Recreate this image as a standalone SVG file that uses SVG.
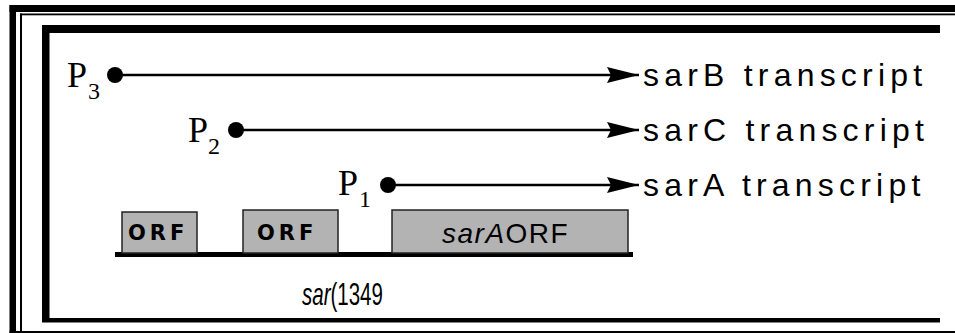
<svg xmlns="http://www.w3.org/2000/svg" width="955" height="333" viewBox="0 0 955 333">
<defs>
<style>
.frame{fill:#000}
.pl{font-family:"Liberation Serif","Times New Roman",serif;font-size:36px;fill:#000}
.ps{font-family:"Liberation Serif","Times New Roman",serif;font-size:24px;fill:#000}
.tx{font-family:"Liberation Sans",Arial,sans-serif;font-size:32px;letter-spacing:5.2px;fill:#000}
.ln{stroke:#000;stroke-width:2.5;fill:none}
.box{fill:#b3b3b3;stroke:#222;stroke-width:1.5}
.orf{font-family:"DejaVu Sans",sans-serif;font-weight:bold;font-size:21px;letter-spacing:4px;fill:#000}
.sa{font-family:"Liberation Sans",Arial,sans-serif;font-size:28px;letter-spacing:1.5px;fill:#000}
.lab{font-family:"Liberation Sans",Arial,sans-serif;font-size:32px;fill:#000}
</style>
<marker id="ah" markerWidth="32" markerHeight="16" refX="32" refY="8" orient="auto" markerUnits="userSpaceOnUse">
<path d="M0,0 L32,8 L0,16 L4,8 Z" fill="#000"/>
</marker>
</defs>
<g id="frame">
<rect class="frame" x="9.5" y="5" width="945.5" height="7"/>
<rect class="frame" x="9.5" y="5" width="6.5" height="328"/>
<rect class="frame" x="20" y="13.5" width="935" height="1.8"/>
<rect class="frame" x="20" y="13.5" width="2" height="318"/>
<rect class="frame" x="9.5" y="331" width="945.5" height="2"/>
<rect class="frame" x="42" y="25" width="898" height="8"/>
<rect class="frame" x="42" y="25" width="7.5" height="297"/>
<rect class="frame" x="42" y="318" width="898" height="4.5"/>
</g>
<g id="connectors">
<line class="ln" x1="115" y1="75" x2="639" y2="75" marker-end="url(#ah)"/>
<line class="ln" x1="236" y1="130" x2="639" y2="130" marker-end="url(#ah)"/>
<line class="ln" x1="388" y1="185" x2="639" y2="185" marker-end="url(#ah)"/>
</g>
<g id="p3">
<circle cx="115" cy="75" r="8" fill="#000"/>
<text class="pl" x="67" y="87">P</text><text class="ps" x="88" y="99">3</text>
<text class="tx" x="643" y="86">sarB transcript</text>
</g>
<g id="p2">
<circle cx="236" cy="130" r="8" fill="#000"/>
<text class="pl" x="188" y="142">P</text><text class="ps" x="208" y="154">2</text>
<text class="tx" x="643" y="141">sarC transcript</text>
</g>
<g id="p1">
<circle cx="388" cy="185" r="8" fill="#000"/>
<text class="pl" x="338" y="195">P</text><text class="ps" x="359" y="207">1</text>
<text class="tx" x="643" y="196">sarA transcript</text>
</g>
<g id="gene">
<rect x="115" y="252" width="518" height="5" fill="#000"/>
<rect class="box" x="122" y="212" width="75" height="41"/>
<text class="orf" x="128" y="240">ORF</text>
<rect class="box" x="243" y="210" width="95" height="43"/>
<text class="orf" x="257" y="240">ORF</text>
<rect class="box" x="392" y="210" width="236" height="43"/>
<text class="sa" x="442" y="243"><tspan font-style="italic">sarA</tspan>ORF</text>
<text class="lab" transform="translate(302,305) scale(0.64,1)"><tspan font-style="italic">sar</tspan>(1349</text>
</g>
</svg>
